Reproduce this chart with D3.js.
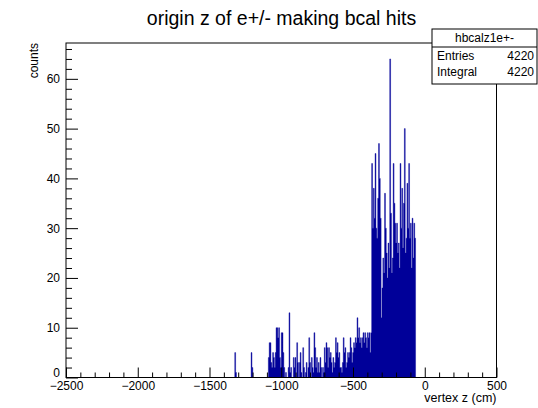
<!DOCTYPE html>
<html><head><meta charset="utf-8">
<script src="https://cdn.jsdelivr.net/npm/d3@7/dist/d3.min.js"></script>
<style>
body{margin:0;background:#fff;}
svg{display:block;font-family:"Liberation Sans",Arial,Helvetica,sans-serif;}
</style></head><body>
<svg id="c" width="538" height="408"></svg>
<script>
// ---- data ----
const title = "origin z of e+/- making bcal hits";
const xTitle = "vertex z (cm)";
const yTitle = "counts";
const histName = "hbcalz1e+-";
const statLabels = ["Entries", "Integral"];
const statValues = ["4220", "4220"];
const xRange = [-2500, 500];
const yRange = [0, 67.2];
const xTickValues = [-2500, -2000, -1500, -1000, -500, 0, 500];
const yTickValues = [0, 10, 20, 30, 40, 50, 60];
const binWidth = 6;           // cm
const firstBinEdge = -1342;   // low edge of first listed bin
const counts = [
  0,0,0,5,1,0,0,0,0,0, 0,0,0,0,0,0,0,0,0,0,
  0,0,5,2,0,0,0,0,0,0, 0,0,0,0,0,0,0,0,0,0,
  0,0,4,7,7,3,2,5,4,2, 5,10,10,8,10,4,2,9,9,5,
  2,0,1,0,0,2,13,1,2,0, 0,4,2,4,0,7,3,0,3,5,
  1,0,6,2,0,1,3,0,2,8, 3,0,4,2,1,9,6,2,4,1,
  3,1,4,2,0,2,1,6,3,7, 6,2,6,4,5,3,1,4,2,3,
  8,5,7,4,5,2,2,1,3,8, 5,6,2,3,5,4,5,8,6,3,
  5,7,6,8,7,12,8,10,7,8, 6,8,9,7,9,8,6,9,8,9,
  5,9,43,30,38,32,45,30,28,36, 47,40,32,12,18,24,21,37,30,25,
  20,27,22,64,33,21,24,43,35,31, 27,31,25,27,22,43,30,38,26,35,
  50,25,28,39,30,43,28,31,22,32, 24,31,28,0
];

// ---- layout ----
const fr = {l: 66, r: 496.5, t: 43, b: 377.5};
const svg = d3.select("#c");
const x = d3.scaleLinear().domain(xRange).range([fr.l, fr.r]);
const y = d3.scaleLinear().domain(yRange).range([fr.b, fr.t]);

// histogram
const pts = counts.map((c, i) => ({x0: firstBinEdge + i * binWidth, c}));
pts.push({x0: firstBinEdge + counts.length * binWidth, c: 0});
const area = d3.area()
  .x(d => x(d.x0)).y0(y(0)).y1(d => y(d.c))
  .curve(d3.curveStepAfter);
svg.append("path").datum(pts).attr("d", area)
  .attr("fill", "#000099").attr("stroke", "#000099").attr("stroke-width", 0.4);

// frame
svg.append("rect").attr("x", fr.l).attr("y", fr.t)
  .attr("width", fr.r - fr.l).attr("height", fr.b - fr.t)
  .attr("fill", "none").attr("stroke", "#000").attr("stroke-width", 1);

const fmt = d3.format("d");
// x axis
const xMinor = d3.range(xRange[0], xRange[1] + 1, 100).filter(v => !xTickValues.includes(v));
const gx = svg.append("g").attr("transform", `translate(0,${fr.b})`);
gx.call(d3.axisBottom(x).tickValues(xTickValues).tickFormat(fmt).tickSizeInner(-10).tickSizeOuter(0).tickPadding(4));
const gxm = svg.append("g").attr("transform", `translate(0,${fr.b})`);
gxm.call(d3.axisBottom(x).tickValues(xMinor).tickSizeInner(-5).tickSizeOuter(0).tickFormat(""));
// y axis
const yMinor = d3.range(yRange[0], yRange[1], 2).filter(v => !yTickValues.includes(v));
const gy = svg.append("g").attr("transform", `translate(${fr.l},0)`);
gy.call(d3.axisLeft(y).tickValues(yTickValues).tickFormat(fmt).tickSizeInner(-12).tickSizeOuter(0).tickPadding(6));
const gym = svg.append("g").attr("transform", `translate(${fr.l},0)`);
gym.call(d3.axisLeft(y).tickValues(yMinor).tickSizeInner(-6).tickSizeOuter(0).tickFormat(""));
svg.selectAll(".domain").remove();
svg.selectAll(".tick line").attr("stroke", "#000");
svg.selectAll(".tick text").attr("font-size", 12).attr("fill", "#000")
  .attr("font-family", '"Liberation Sans",Arial,Helvetica,sans-serif');
gy.selectAll(".tick text").filter(d => d === 0).attr("dy", "-0.05em");

// titles
svg.append("text").attr("x", 281.5).attr("y", 25).attr("text-anchor", "middle")
  .attr("font-size", 19.5).text(title);
svg.append("text").attr("x", fr.r).attr("y", 402).attr("text-anchor", "end")
  .attr("font-size", 12.5).text(xTitle);
svg.append("text").attr("transform", `translate(38,${fr.t}) rotate(-90)`)
  .attr("text-anchor", "end").attr("font-size", 12).text(yTitle);

// stats box
const bx = {l: 432, r: 537, t: 29, b: 84, h: 47};
svg.append("rect").attr("x", bx.l).attr("y", bx.t).attr("width", bx.r - bx.l).attr("height", bx.b - bx.t)
  .attr("fill", "#fff").attr("stroke", "#000").attr("stroke-width", 1);
svg.append("line").attr("x1", bx.l).attr("x2", bx.r).attr("y1", bx.h).attr("y2", bx.h).attr("stroke", "#000");
svg.append("text").attr("x", (bx.l + bx.r) / 2).attr("y", 42).attr("text-anchor", "middle")
  .attr("font-size", 12).text(histName);
statLabels.forEach((s, i) => {
  svg.append("text").attr("x", bx.l + 5).attr("y", 60 + i * 16).attr("font-size", 12).text(s);
  svg.append("text").attr("x", bx.r - 3).attr("y", 60 + i * 16).attr("text-anchor", "end").attr("font-size", 12).text(statValues[i]);
});
</script></body></html>
